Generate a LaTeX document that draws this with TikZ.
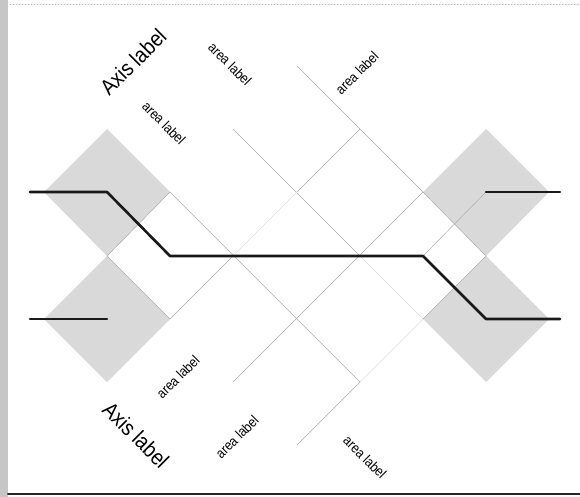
\documentclass[tikz,border=0pt]{standalone}
\usepackage{fontspec}
\setmainfont[FakeStretch=0.88]{Liberation Sans}

\begin{document}
\begin{tikzpicture}[x=1pt,y=-1pt,line cap=round,line join=round,
  areafill/.style={fill=gray!30},
  gridline/.style={line width=0.5pt,draw=gray!65},
  faintline/.style={line width=0.5pt,draw=gray!25},
  pathline/.style={line width=2.6pt,draw=black!90},
  axislbl/.style={font=\fontsize{22}{22}\selectfont,inner sep=0pt},
  arealbl/.style={font=\fontsize{14}{14}\selectfont,inner sep=0pt}]
  \useasboundingbox (0,0) rectangle (580,497);
  % frame
  \fill[gray!45] (0,0) rectangle (8,497);
  \draw[gray!55,line width=1pt,dotted] (10,4.5) -- (580,4.5);
  \draw[black!85,line width=2pt] (8,494) -- (580,494);
  % lattice points
  \coordinate (a1) at (107,129);
  \coordinate (a3) at (233,129);
  \coordinate (a5) at (360,129);
  \coordinate (a7) at (486,129);
  \coordinate (b0) at (44,192);
  \coordinate (b1) at (107,192);
  \coordinate (b2) at (170,192);
  \coordinate (b4) at (297,192);
  \coordinate (b6) at (423,192);
  \coordinate (b7) at (486,192);
  \coordinate (b8) at (549,192);
  \coordinate (c1) at (107,256);
  \coordinate (c2) at (170,256);
  \coordinate (c3) at (233,256);
  \coordinate (c5) at (360,256);
  \coordinate (c6) at (423,256);
  \coordinate (c7) at (486,256);
  \coordinate (d0) at (44,319);
  \coordinate (d1) at (107,319);
  \coordinate (d2) at (170,319);
  \coordinate (d4) at (297,319);
  \coordinate (d6) at (423,319);
  \coordinate (d7) at (486,319);
  \coordinate (d8) at (549,319);
  \coordinate (e1) at (107,382);
  \coordinate (e3) at (233,382);
  \coordinate (e5) at (360,382);
  \coordinate (e7) at (486,382);
  \coordinate (top4) at (297,66);
  \coordinate (bot4) at (297,445);
  % shaded areas
  \fill[areafill] (a1) -- (b0) -- (c1) -- (b2) -- cycle;
  \fill[areafill] (c1) -- (d0) -- (e1) -- (d2) -- cycle;
  \fill[areafill] (a7) -- (b6) -- (c7) -- (b8) -- cycle;
  \fill[areafill] (c7) -- (d6) -- (e7) -- (d8) -- cycle;
  % lattice
  \draw[gridline] (a3) -- (c5);
  \draw[faintline] (c5) -- (d6);
  \draw[gridline] (b2) -- (e5);
  \draw[gridline] (top4) -- (b6);
  \draw[gridline] (a5) -- (b4);
  \draw[faintline] (b4) -- (c3);
  \draw[gridline] (c3) -- (d2);
  \draw[gridline] (b6) -- (e3);
  \draw[gridline] (e5) -- (bot4);
  \draw[faintline] (d6) -- (e5);
  \draw[gridline] (b7) -- (c6);
  \draw[gridline] (b6) -- (c7) -- (d6);
  \draw[gridline] (b2) -- (c1) -- (d2);
  % route
  \draw[pathline] (30,192) -- (b1) -- (c2) -- (c6) -- (d7) -- (560,319);
  \draw[pathline] (30,319) -- (d1);
  \draw[pathline] (b7) -- (560,192);
  % labels
  \node[axislbl,rotate=45] (axisup) at (133,62) {Axis label};
  \node[axislbl,rotate=-45] (axisdn) at (136,435) {Axis label};
  \node[arealbl,rotate=-45] (ar1) at (230,64) {area label};
  \node[arealbl,rotate=-45] (ar2) at (164,123) {area label};
  \node[arealbl,rotate=45] (ar3) at (357,73) {area label};
  \node[arealbl,rotate=45] (ar4) at (178,377) {area label};
  \node[arealbl,rotate=45] (ar5) at (237,437) {area label};
  \node[arealbl,rotate=-45] (ar6) at (365,457) {area label};
\end{tikzpicture}
\end{document}
